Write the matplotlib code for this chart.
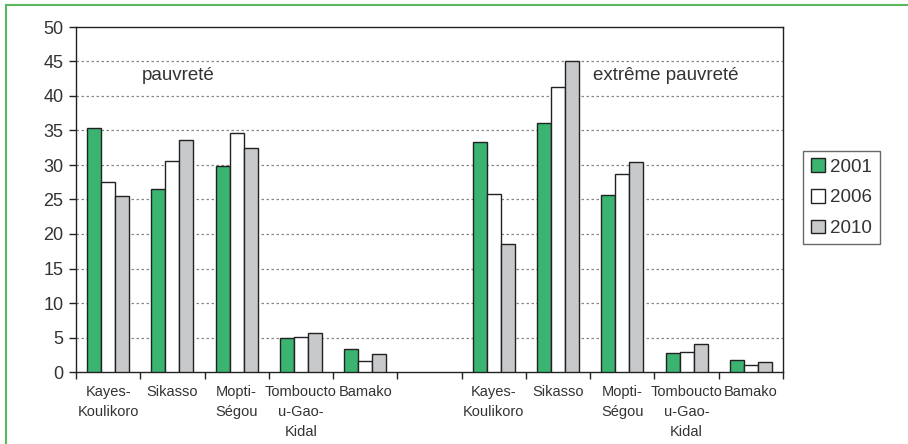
import numpy as np
import matplotlib.pyplot as plt
from matplotlib.lines import Line2D

plt.rcParams['font.family'] = ['Liberation Sans', 'DejaVu Sans']

regions = ['Kayes-\nKoulikoro', 'Sikasso', 'Mopti-\nSégou', 'Tomboucto\nu-Gao-\nKidal', 'Bamako']
years = ['2001', '2006', '2010']

# pauvreté par région
pauv_2001 = [35.4, 26.5, 29.8, 4.9, 3.4]
pauv_2006 = [27.5, 30.6, 34.7, 5.1, 1.6]
pauv_2010 = [25.5, 33.6, 32.5, 5.6, 2.6]

# extrême pauvreté par région
extr_2001 = [33.3, 36.1, 25.6, 2.7, 1.8]
extr_2006 = [25.8, 41.3, 28.7, 2.9, 1.0]
extr_2010 = [18.5, 45.0, 30.5, 4.1, 1.5]

colors = ['#3bb371', '#ffffff', '#c8c9cb']

series = [pauv_2001 + [np.nan] + extr_2001,
          pauv_2006 + [np.nan] + extr_2006,
          pauv_2010 + [np.nan] + extr_2010]
labels = regions + [''] + regions
x = np.arange(len(labels))

fig = plt.figure(figsize=(9.08, 4.44), dpi=100)
ax = fig.add_axes([76 / 908, 1 - 372 / 444, (783 - 76) / 908, (372 - 27) / 444])

w = 0.218
for i, (vals, c, yr) in enumerate(zip(series, colors, years)):
    ax.bar(x + (i - 1) * w, vals, w, color=c, edgecolor='#222222', linewidth=1.0,
           label=yr, zorder=3)

ax.set_xlim(-0.5, len(labels) - 0.5)
ax.set_ylim(0, 50)
ax.set_yticks(range(0, 51, 5))
ax.tick_params(axis='y', labelsize=13, length=5, width=1, color='#222222',
               labelcolor='#333333', pad=4)
ax.set_xticks(x, labels, fontsize=10.5, linespacing=1.55, color='#333333')
ax.tick_params(axis='x', which='major', length=0, pad=9)
ax.set_xticks(np.arange(-0.5, len(labels), 1), minor=True)
ax.tick_params(axis='x', which='minor', length=5, width=1, color='#222222')

for yv in range(5, 50, 5):
    ax.axhline(yv, color='#888888', linestyle=(0, (2, 2)), linewidth=0.9, zorder=1)

for s in ax.spines.values():
    s.set_color('#222222')
    s.set_linewidth(1.0)

ax.text(0.53, 43.0, 'pauvreté', fontsize=13.5, color='#333333', va='center')
ax.text(7.54, 43.0, 'extrême pauvreté', fontsize=13.5, color='#333333', va='center')

leg = fig.legend(loc='upper left', bbox_to_anchor=(803 / 908, 1 - 151 / 444),
                 fontsize=13.5, frameon=True, fancybox=False, edgecolor='#444444',
                 handlelength=0.75, handleheight=0.75, handletextpad=0.3,
                 labelspacing=0.7, borderpad=0.4, borderaxespad=0)
leg.get_frame().set_linewidth(1.0)
for t in leg.get_texts():
    t.set_color('#333333')

# cadre vert autour de la figure
fig.add_artist(Line2D([6 / 908, 1], [1 - 5 / 444, 1 - 5 / 444], color='#5cb85f',
                      linewidth=1.5, transform=fig.transFigure))
fig.add_artist(Line2D([6 / 908, 6 / 908], [0, 1 - 5 / 444], color='#5cb85f',
                      linewidth=1.5, transform=fig.transFigure))

fig.savefig('out.png', dpi=100)
